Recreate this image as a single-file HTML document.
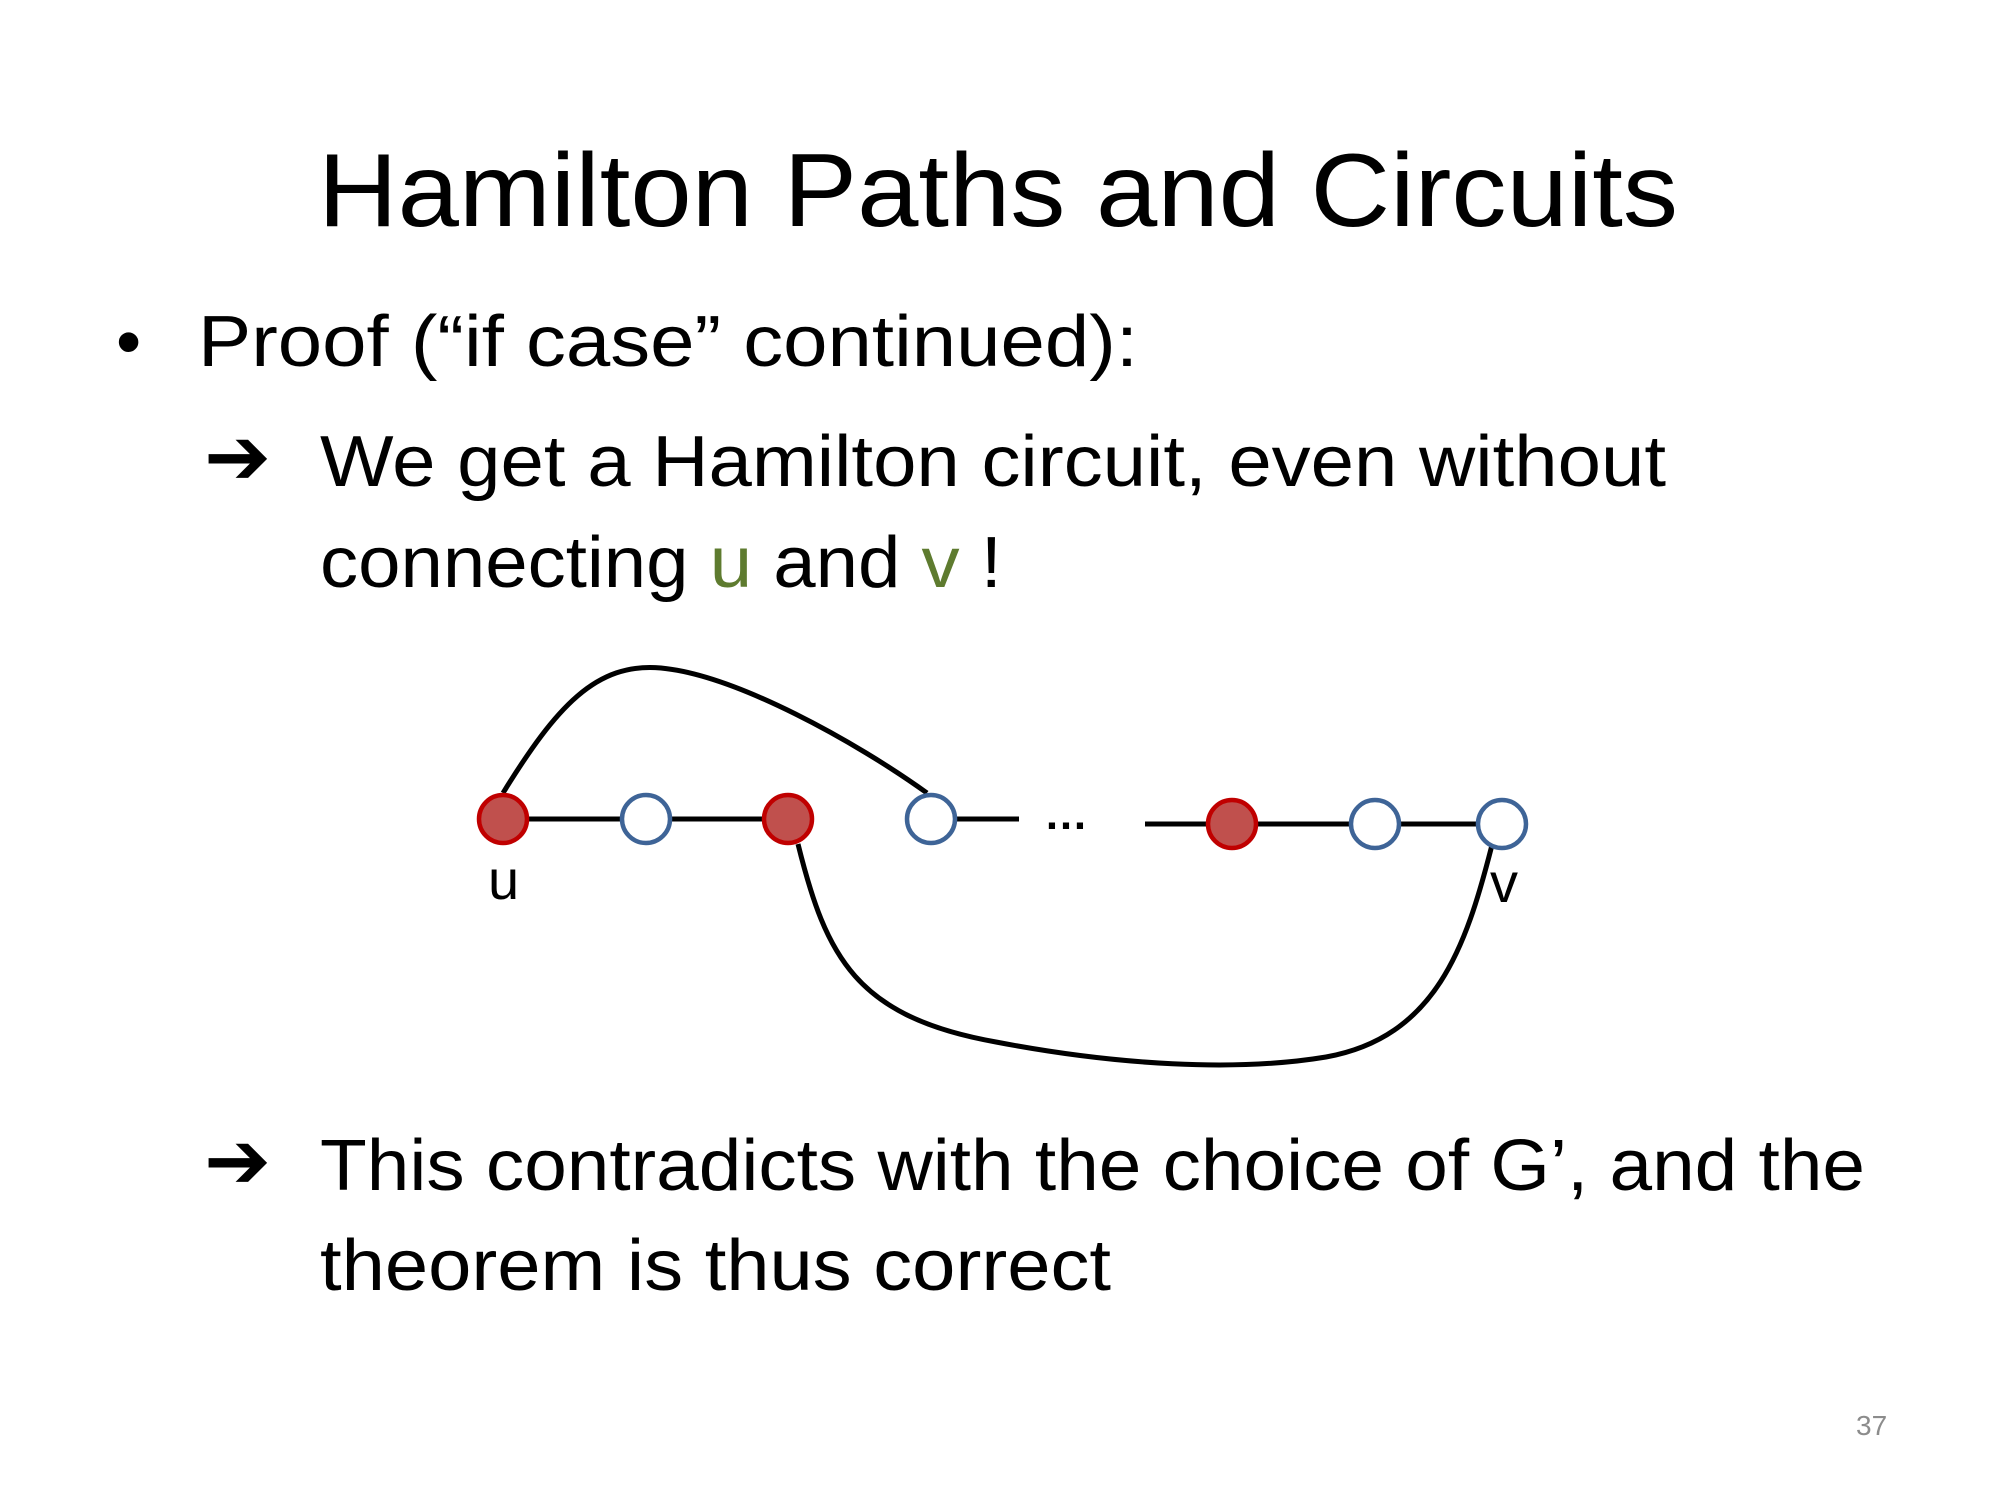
<!DOCTYPE html>
<html><head><meta charset="utf-8"><style>
html,body{margin:0;padding:0;background:#fff;}
svg{display:block;}
text{font-family:"Liberation Sans","DejaVu Sans",sans-serif;fill:#000;}
</style></head><body>
<svg width="2000" height="1500" viewBox="0 0 2000 1500" xmlns="http://www.w3.org/2000/svg">
<text x="318" y="226" font-size="104" textLength="1360" lengthAdjust="spacingAndGlyphs">Hamilton Paths and Circuits</text>
<text x="116" y="366" font-size="72">•</text>
<text x="198" y="366" font-size="72" textLength="940" lengthAdjust="spacingAndGlyphs">Proof  (“if case” continued):</text>
<text x="204" y="484" font-size="80" font-weight="bold">➔</text>
<text x="320" y="486" font-size="72" textLength="1346" lengthAdjust="spacingAndGlyphs">We get a Hamilton circuit, even without</text>
<text x="320" y="587" font-size="72" textLength="682" lengthAdjust="spacingAndGlyphs">connecting <tspan fill="#5e7b2f">u</tspan> and <tspan fill="#5e7b2f">v</tspan> !</text>
<g fill="none" stroke="#000" stroke-width="5">
<path d="M503,793 C556,707 596,662 661,668 C736,675 856,742 927,793"/>
<path d="M798,844 C826,957 856,1017 996,1042 C1116,1065 1236,1072 1326,1057 C1436,1037 1466,947 1492,845"/>
<line x1="503" y1="819" x2="788" y2="819"/>
<line x1="931" y1="819" x2="1019" y2="819"/>
<line x1="1145" y1="824" x2="1502" y2="824"/>
</g>
<text x="1044" y="829" font-size="44" font-weight="bold">…</text>
<g stroke-width="4.5">
<circle cx="503" cy="819" r="24" fill="#c0504d" stroke="#c00000"/>
<circle cx="646" cy="819" r="24" fill="#fff" stroke="#3e6497"/>
<circle cx="788" cy="819" r="24" fill="#c0504d" stroke="#c00000"/>
<circle cx="931" cy="819" r="24" fill="#fff" stroke="#3e6497"/>
<circle cx="1232" cy="824" r="24" fill="#c0504d" stroke="#c00000"/>
<circle cx="1375" cy="824" r="24" fill="#fff" stroke="#3e6497"/>
<circle cx="1502" cy="824" r="24" fill="#fff" stroke="#3e6497"/>
</g>
<text x="488" y="899" font-size="56">u</text>
<text x="1490" y="902" font-size="56">v</text>
<text x="204" y="1188" font-size="80" font-weight="bold">➔</text>
<text x="320" y="1190" font-size="72" textLength="1545" lengthAdjust="spacingAndGlyphs">This contradicts with the choice of G’, and the</text>
<text x="320" y="1290" font-size="72" textLength="791" lengthAdjust="spacingAndGlyphs">theorem is thus correct</text>
<text x="1856" y="1435" font-size="28" style="fill:#8c8c8c">37</text>
</svg>
</body></html>
